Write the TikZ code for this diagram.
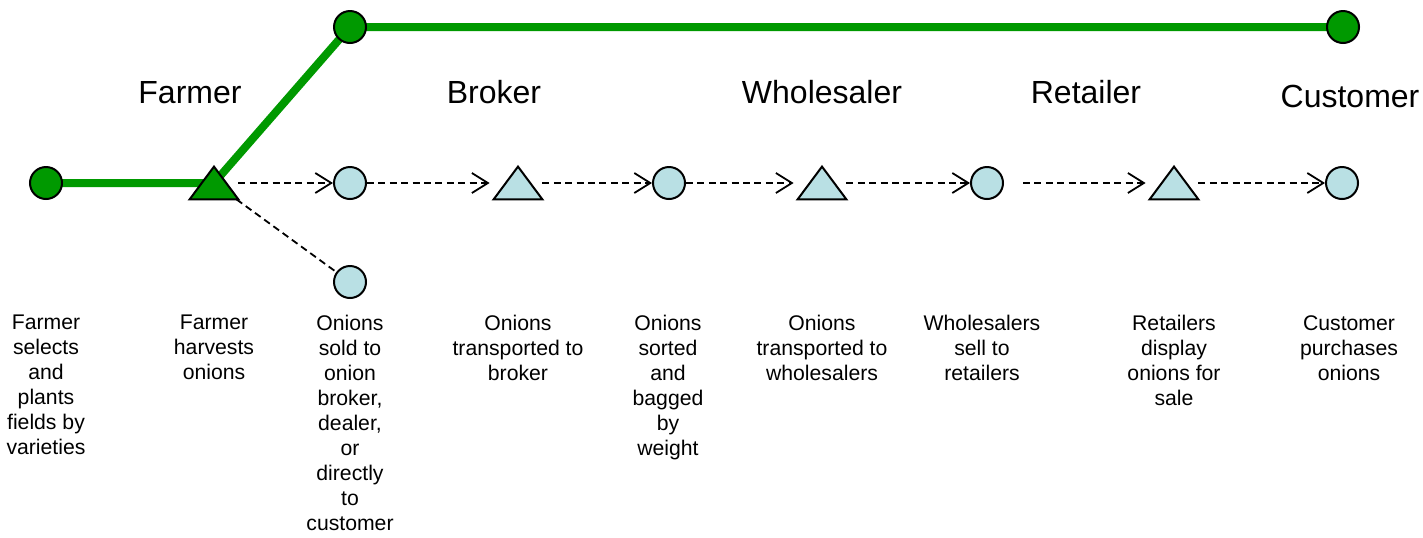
\documentclass[tikz,border=0pt]{standalone}
\usepackage{fontspec}
\setmainfont{Liberation Sans}
\usetikzlibrary{arrows.meta,backgrounds}

\definecolor{chaingreen}{RGB}{0,153,0}
\definecolor{stepblue}{RGB}{185,224,228}

\tikzset{
    dot/.style={circle, draw=black, line width=1pt, fill=#1, minimum size=16pt, inner sep=0pt},
    dot/.default=stepblue,
    tribox/.style={rectangle, minimum width=24pt, minimum height=16pt, inner sep=0pt},
    flow/.style={dash pattern=on 3.5pt off 2.2pt, line width=0.9pt},
    flowarrow/.style={flow, -{Straight Barb[length=8pt,width=10pt,line width=0.9pt]}},
    chain/.style={chaingreen, line width=4pt},
    head/.style={font=\fontsize{16}{19}\selectfont, anchor=base},
    note/.style={font=\fontsize{10.6}{12.5}\selectfont, align=center, anchor=north, inner sep=0pt},
}

\begin{document}
\begin{tikzpicture}[x=0.5pt, y=-0.5pt]
    \useasboundingbox (0,0) rectangle (1423,537);

    % -------------------------------
    % stage headings
    % -------------------------------
    \node[head] (hfarmer) at (190,103) {Farmer};
    \node[head] (hbroker) at (494,103) {Broker};
    \node[head] (hwhole)  at (822,103) {Wholesaler};
    \node[head] (hretail) at (1086,103) {Retailer};
    \node[head] (hcust)   at (1350,107) {Customer};

    % -------------------------------
    % steps of the chain
    % -------------------------------
    \node[dot=chaingreen] (top1) at (350,27) {};
    \node[dot=chaingreen] (top2) at (1343,27) {};

    \node[dot=chaingreen] (plant) at (46,183) {};
    \node[tribox] (harvest) at (214,183) {};
    \node[dot] (sold)   at (350,183) {};
    \node[dot] (direct) at (350,282) {};
    \node[tribox] (broker) at (518,183) {};
    \node[dot] (sorted) at (669,183) {};
    \node[tribox] (whole) at (822,183) {};
    \node[dot] (sell)   at (987,183) {};
    \node[tribox] (retail) at (1174,183) {};
    \node[dot] (buy)    at (1342,183) {};

    % green path behind the steps
    \begin{pgfonlayer}{background}
        \draw[chain] (plant.center) -- (harvest.center) -- (top1.center) -- (top2.center);
    \end{pgfonlayer}

    % triangles
    \draw[line width=1pt, fill=chaingreen] (harvest.south west) -- (harvest.north) -- (harvest.south east) -- cycle;
    \foreach \t in {broker,whole,retail} {
        \draw[line width=1pt, fill=stepblue] (\t.south west) -- (\t.north) -- (\t.south east) -- cycle;
    }

    % dashed flow
    \draw[flowarrow] (harvest.east) -- (sold.west);
    \draw[flowarrow, shorten >=2pt] (sold.east) -- (broker.west);
    \draw[flowarrow] (broker.east) -- (sorted.west);
    \draw[flowarrow, shorten >=2pt] (sorted.east) -- (whole.west);
    \draw[flowarrow] (whole.east) -- (sell.west);
    \draw[flowarrow, shorten <=9.5pt, shorten >=2pt] (sell.east) -- (retail.west);
    \draw[flowarrow] (retail.east) -- (buy.west);
    \draw[flow] (harvest) -- (direct);

    % -------------------------------
    % descriptions
    % -------------------------------
    \node[note] (n1) at (46,315)   {Farmer\\selects\\and\\plants\\fields by\\varieties};
    \node[note] (n2) at (214,315)  {Farmer\\harvests\\onions};
    \node[note] (n3) at (350,315)  {Onions\\sold to\\onion\\broker,\\dealer,\\or\\directly\\to\\customer};
    \node[note] (n4) at (518,315)  {Onions\\transported to\\broker};
    \node[note] (n5) at (668,315)  {Onions\\sorted\\and\\bagged\\by\\weight};
    \node[note] (n6) at (822,315)  {Onions\\transported to\\wholesalers};
    \node[note] (n7) at (982,315)  {Wholesalers\\sell to\\retailers};
    \node[note] (n8) at (1174,315) {Retailers\\display\\onions for\\sale};
    \node[note] (n9) at (1349,315) {Customer\\purchases\\onions};

\end{tikzpicture}
\end{document}
